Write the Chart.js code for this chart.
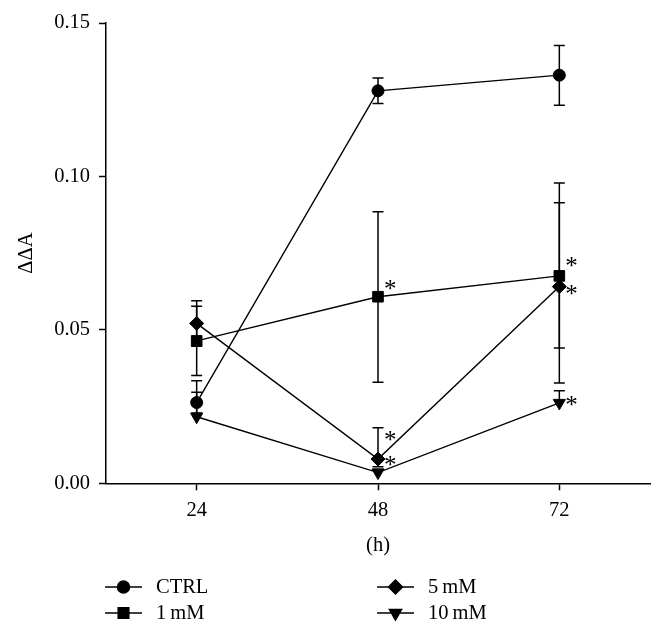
<!DOCTYPE html>
<html>
<head>
<meta charset="utf-8">
<script src="https://cdn.jsdelivr.net/npm/chart.js@4.4.0/dist/chart.umd.min.js"></script>
<style>
  html, body { margin: 0; padding: 0; background: #fff; }
  #wrap { width: 663px; height: 634px; }
</style>
</head>
<body>
<div id="wrap"><canvas id="chart"></canvas></div>
<script>
// Data
const hours = ['24', '48', '72'];
const seriesNames = ['CTRL', '1\u2009mM', '5\u2009mM', '10\u2009mM'];

const ctrlMean = [0.0263, 0.1279, 0.1330];
const ctrlUp   = [0.0034, 0.0042, 0.0097];
const ctrlDown = [0.0034, 0.0041, 0.0098];

const mm1Mean = [0.0464, 0.0608, 0.0676];
const mm1Up   = [0.0113, 0.0277, 0.0303];
const mm1Down = [0.0113, 0.0279, 0.0349];

const mm5Mean = [0.0521, 0.0079, 0.0641];
const mm5Up   = [0.0074, 0.0102, 0.0273];
const mm5Down = [0.0074, 0.0025, 0.0200];

const mm10Mean = [0.0217, 0.0035, 0.0262];
const mm10Up   = [0.0117, 0.0011, 0.0040];
const mm10Down = [0.0010, 0.0011, 0.0010];

// significance asterisks (vs CTRL)
const ctrlSig = [false, false, false];
const mm1Sig  = [false, true, true];
const mm5Sig  = [false, true, true];
const mm10Sig = [false, true, true];

const yTicks = [0, 0.05, 0.10, 0.15];

const FONT = 'Liberation Serif';
const INK = '#000';

// vertical nudge of each asterisk, so they don't collide
const STAR_DY = [
    [0, 0, 0],
    [0, -10, -12],
    [0, -21, 5],
    [0, -10, 0]
];

function makeSet(label, mean, up, down, sig, style, radius, rotation) {
    return {
        label: label,
        data: mean,
        errUp: up,
        errDown: down,
        sig: sig,
        borderColor: INK,
        backgroundColor: INK,
        borderWidth: 1.4,
        pointStyle: style,
        pointRadius: radius,
        pointHoverRadius: radius,
        pointRotation: rotation || 0,
        pointBackgroundColor: INK,
        pointBorderColor: INK,
        pointBorderWidth: 1,
        tension: 0,
        fill: false
    };
}

// Error bars drawn under the markers
const errorBars = {
    id: 'errorBars',
    beforeDatasetsDraw(chart) {
        const ctx = chart.ctx;
        const y = chart.scales.y;
        ctx.save();
        ctx.strokeStyle = INK;
        ctx.lineWidth = 1.5;
        chart.data.datasets.forEach((ds, i) => {
            const meta = chart.getDatasetMeta(i);
            meta.data.forEach((pt, j) => {
                const top = y.getPixelForValue(ds.data[j] + ds.errUp[j]);
                const bot = y.getPixelForValue(ds.data[j] - ds.errDown[j]);
                ctx.beginPath();
                ctx.moveTo(pt.x, top);
                ctx.lineTo(pt.x, bot);
                ctx.moveTo(pt.x - 5.5, top);
                ctx.lineTo(pt.x + 5.5, top);
                if (ds.errDown[j] > 0.0015) {
                    ctx.moveTo(pt.x - 5.5, bot);
                    ctx.lineTo(pt.x + 5.5, bot);
                }
                ctx.stroke();
            });
        });
        ctx.restore();
    }
};

// Asterisks and the two-column legend
const extras = {
    id: 'extras',
    afterDraw(chart) {
        const ctx = chart.ctx;
        ctx.save();
        ctx.fillStyle = INK;
        ctx.font = '25px "' + FONT + '"';
        ctx.textAlign = 'left';
        ctx.textBaseline = 'alphabetic';
        chart.data.datasets.forEach((ds, i) => {
            const meta = chart.getDatasetMeta(i);
            meta.data.forEach((pt, j) => {
                if (ds.sig[j]) {
                    ctx.fillText('*', pt.x + 6, pt.y + 10 + STAR_DY[i][j]);
                }
            });
        });

        // legend: CTRL / 1 mM in the first column, 5 mM / 10 mM in the second
        const colX = [105, 377];
        const rowY = [587, 613];
        ctx.font = '20.5px "' + FONT + '"';
        ctx.textBaseline = 'middle';
        chart.data.datasets.forEach((ds, i) => {
            const x0 = colX[Math.floor(i / 2)];
            const yy = rowY[i % 2];
            ctx.strokeStyle = INK;
            ctx.lineWidth = 1.5;
            ctx.beginPath();
            ctx.moveTo(x0, yy);
            ctx.lineTo(x0 + 37, yy);
            ctx.stroke();
            Chart.helpers.drawPoint(ctx, {
                pointStyle: ds.pointStyle,
                radius: ds.pointRadius,
                rotation: ds.pointRotation,
                borderWidth: 1
            }, x0 + 18.5, yy);
            ctx.fillText(ds.label, x0 + 51, yy + 1);
        });
        ctx.restore();
    }
};

new Chart(document.getElementById('chart'), {
    type: 'line',
    data: {
        labels: hours,
        datasets: [
            makeSet(seriesNames[0], ctrlMean, ctrlUp, ctrlDown, ctrlSig, 'circle', 6),
            makeSet(seriesNames[1], mm1Mean, mm1Up, mm1Down, mm1Sig, 'rect', 7.5),
            makeSet(seriesNames[2], mm5Mean, mm5Up, mm5Down, mm5Sig, 'rectRot', 7),
            makeSet(seriesNames[3], mm10Mean, mm10Up, mm10Down, mm10Sig, 'triangle', 7, 180)
        ]
    },
    options: {
        responsive: true,
        maintainAspectRatio: false,
        animation: false,
        events: [],
        layout: { padding: { left: 0, right: 13, top: 23, bottom: 0 } },
        plugins: {
            legend: { display: false },
            tooltip: { enabled: false }
        },
        scales: {
            x: {
                type: 'category',
                offset: true,
                afterFit: (scale) => { scale.height = 150.7; },
                grid: {
                    offset: false,
                    drawOnChartArea: false,
                    drawTicks: true,
                    tickLength: 7,
                    tickWidth: 1.5,
                    tickColor: INK
                },
                border: { display: true, color: INK, width: 1.5 },
                ticks: {
                    color: INK,
                    padding: 8,
                    font: { family: FONT, size: 20.5 }
                },
                title: {
                    display: true,
                    text: '(h)',
                    color: INK,
                    font: { family: FONT, size: 20.5 },
                    padding: { top: 0, bottom: 76 }
                }
            },
            y: {
                min: 0,
                max: 0.15,
                afterFit: (scale) => { scale.width = 106; },
                afterBuildTicks: (scale) => { scale.ticks = yTicks.map(v => ({ value: v })); },
                grid: {
                    drawOnChartArea: false,
                    drawTicks: true,
                    tickLength: 7,
                    tickWidth: 1.5,
                    tickColor: INK
                },
                border: { display: true, color: INK, width: 1.5 },
                ticks: {
                    color: INK,
                    padding: 9,
                    font: { family: FONT, size: 20.5 },
                    callback: (v) => Number(v).toFixed(2)
                },
                title: {
                    display: true,
                    text: '\u0394\u0394A',
                    color: INK,
                    font: { family: FONT, size: 20.5 },
                    padding: { top: 14, bottom: 0 }
                }
            }
        }
    },
    plugins: [errorBars, extras]
});
</script>
</body>
</html>
